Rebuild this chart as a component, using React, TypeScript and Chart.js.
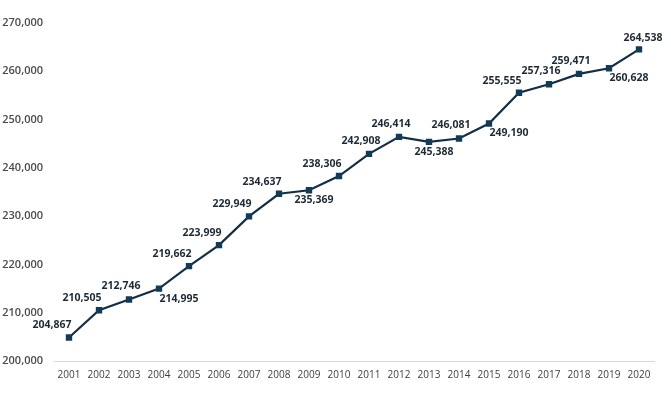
import React, { useEffect, useRef } from "react";
import { Chart, registerables } from "chart.js";

Chart.register(...registerables);

const years = ["2001","2002","2003","2004","2005","2006","2007","2008","2009","2010","2011","2012","2013","2014","2015","2016","2017","2018","2019","2020"];
const values = [204867,210505,212746,214995,219662,223999,229949,234637,235369,238306,242908,246414,245388,246081,249190,255555,257316,259471,260628,264538];
const yTicks = [200000,210000,220000,230000,240000,250000,260000,270000];
// label placement per point
const placements = ["AL","AL","A","BR","AL","AL","AL","AL","B","AL","A","A","B","A","BR","AL","A","A","BR","AR"];

const OFFSETS: Record<string, [number, number]> = {
  AL: [-17, -12],
  A: [-8, -13],
  AR: [4, -11],
  B: [5, 10],
  BR: [20, 10],
};

const fmt = (v: number) => v.toLocaleString("en-US");

const labelPlugin = {
  id: "pointLabels",
  afterDatasetsDraw(chart: any) {
    const ctx = chart.ctx;
    const meta = chart.getDatasetMeta(0);
    ctx.save();
    ctx.font = "bold 10.5px 'Open Sans'";
    ctx.fillStyle = "#1f2a36";
    ctx.textAlign = "center";
    ctx.textBaseline = "middle";
    meta.data.forEach((pt: any, i: number) => {
      const [dx, dy] = OFFSETS[placements[i]];
      ctx.fillText(fmt(values[i]), pt.x + dx, pt.y + dy);
    });
    ctx.restore();
  },
};

export default function App() {
  const ref = useRef<HTMLCanvasElement>(null);
  useEffect(() => {
    document.body.style.margin = "0";
    const chart = new Chart(ref.current!, {
      type: "line",
      data: {
        labels: years,
        datasets: [
          {
            data: values,
            borderColor: "#142f45",
            backgroundColor: "#123b57",
            borderWidth: 2.2,
            pointStyle: "rect",
            pointRadius: 4.5,
            pointBorderWidth: 0,
            pointBackgroundColor: "#123b57",
            tension: 0,
          },
        ],
      },
      options: {
        animation: false,
        responsive: false,
        maintainAspectRatio: false,
        layout: { padding: { top: 23, right: 17, left: 0, bottom: 0 } },
        plugins: { legend: { display: false }, tooltip: { enabled: false } },
        scales: {
          x: {
            offset: true,
            grid: { display: false, drawTicks: false, offset: true },
            border: { display: true, color: "#d9d9d9", width: 1 },
            ticks: { color: "#404040", font: { family: "'Open Sans'", size: 10 }, padding: 8, maxRotation: 0, autoSkip: false },
            afterFit: (s: any) => { s.height = 33; },
          },
          y: {
            min: 200000,
            max: 270000,
            grid: { display: false, drawTicks: false },
            border: { display: false },
            afterBuildTicks: (s: any) => { s.ticks = yTicks.map((v) => ({ value: v })); },
            ticks: {
              color: "#4a4a4a",
              font: { family: "'Open Sans'", size: 11, weight: "600" },
              padding: 11,
              callback: (v: any) => fmt(Number(v)),
            },
            afterFit: (s: any) => { s.width = 54; },
          },
        },
      },
      plugins: [labelPlugin],
    });
    return () => chart.destroy();
  }, []);
  return (
    <div style={{ position: "relative", width: 671, height: 394 }}>
      <canvas ref={ref} width={671} height={394} style={{ width: 671, height: 394 }} />
    </div>
  );
}
